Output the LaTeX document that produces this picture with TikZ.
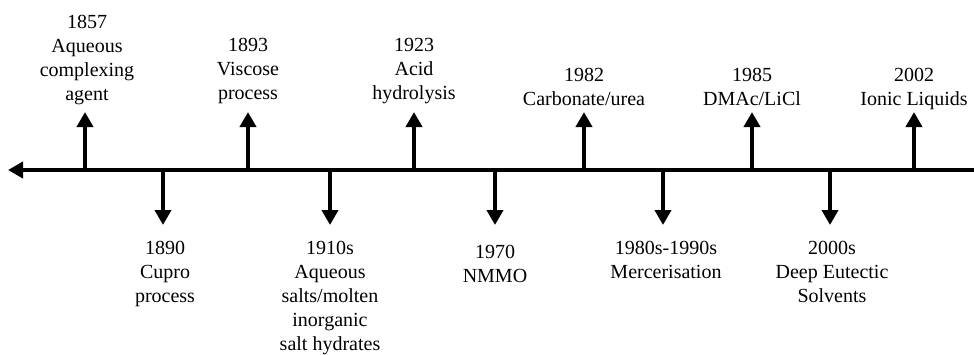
\documentclass[tikz,border=0pt]{standalone}
\usepackage{fontspec}
\setmainfont{Liberation Serif}
\usetikzlibrary{arrows.meta}
\begin{document}
\begin{tikzpicture}[x=1pt,y=-1pt,
  axis/.style={line width=4pt,{Triangle[length=15pt,width=16pt]}-{Triangle[length=15pt,width=16pt]}},
  tick/.style={line width=4pt,-{Triangle[length=15pt,width=16pt]}},
  lbl/.style={align=center,inner sep=0pt,font=\fontsize{20}{24}\selectfont,anchor=north}]
\path[use as bounding box] (0,0) rectangle (974,354);
\clip (0,0) rectangle (974,354);
% axis
\coordinate (L) at (8,170);
\coordinate (R) at (990,170);
\draw[axis] (L) -- (R);
% up ticks
\foreach \n/\x in {u1/85,u2/248,u3/414,u4/584,u5/752,u6/914}{
  \coordinate (\n b) at (\x,170);
  \coordinate (\n t) at (\x,112);
  \draw[tick] (\n b) -- (\n t);
}
% down ticks
\foreach \n/\x in {d1/163,d2/330,d3/495,d4/663,d5/830}{
  \coordinate (\n b) at (\x,170);
  \coordinate (\n t) at (\x,225);
  \draw[tick] (\n b) -- (\n t);
}
% top labels
\node[lbl] (l1857) at (87,15) {1857\\Aqueous\\complexing\\agent};
\node[lbl] (l1893) at (248,38) {1893\\Viscose\\process};
\node[lbl] (l1923) at (414,38) {1923\\Acid\\hydrolysis};
\node[lbl] (l1982) at (584,68) {1982\\Carbonate/urea};
\node[lbl] (l1985) at (752,68) {1985\\DMAc/LiCl};
\node[lbl] (l2002) at (914,68) {2002\\Ionic Liquids};
% bottom labels
\node[lbl] (l1890) at (165,241) {1890\\Cupro\\process};
\node[lbl] (l1910) at (330,241) {1910s\\Aqueous\\salts/molten\\inorganic\\salt hydrates};
\node[lbl] (l1970) at (495,245) {1970\\NMMO};
\node[lbl] (l1980) at (666,241) {1980s-1990s\\Mercerisation};
\node[lbl] (l2000) at (832,241) {2000s\\Deep Eutectic\\Solvents};
\end{tikzpicture}
\end{document}
